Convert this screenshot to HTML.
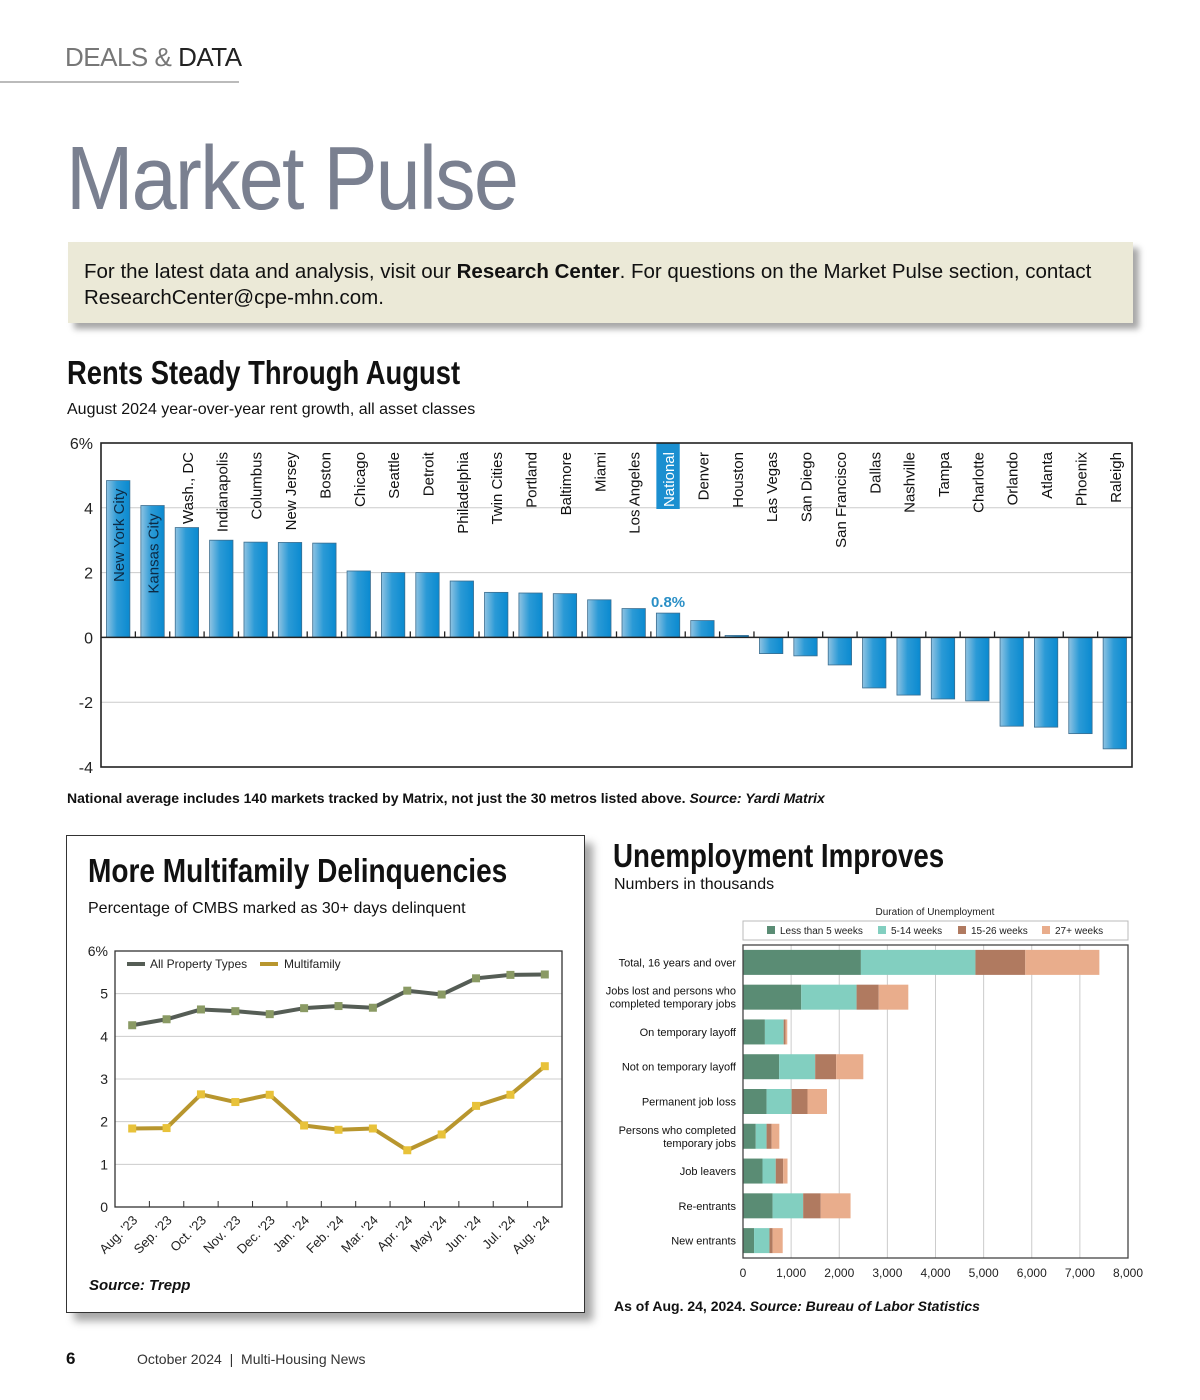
<!DOCTYPE html>
<html><head><meta charset="utf-8">
<style>
body{margin:0;background:#fff;}
#page{position:relative;width:1200px;height:1400px;overflow:hidden;font-family:"Liberation Sans",sans-serif;color:#111;}
.abs{position:absolute;white-space:nowrap;}
.cond{font-family:"Liberation Sans Narrow","Liberation Sans",sans-serif;font-weight:bold;transform-origin:0 0;}
svg text{font-family:"Liberation Sans",sans-serif;}
</style></head>
<body>
<div id="page">
  <div class="abs" style="left:65px;top:42px;font-size:26px;color:#777;letter-spacing:-0.5px;">DEALS &amp; <span style="color:#222">DATA</span></div>
  <div class="abs" style="left:0;top:81px;width:239px;height:2px;background:#bbb;"></div>
  <div class="abs" style="left:66px;top:128px;font-size:90px;font-weight:300;color:#7a8090;transform:scaleX(0.9);transform-origin:0 0;letter-spacing:-2px;">Market Pulse</div>
  <div class="abs" style="left:68px;top:242px;width:1065px;height:81px;background:#ebe9d7;box-shadow:6px 6px 6px rgba(0,0,0,0.35);"></div>
  <div class="abs" style="left:84px;top:259px;font-size:20.5px;line-height:26px;color:#111;white-space:normal;width:1045px;">For the latest data and analysis, visit our <b>Research Center</b>. For questions on the Market Pulse section, contact ResearchCenter@cpe-mhn.com.</div>

  <div class="abs cond" style="left:67px;top:354px;font-size:33px;transform:scaleX(0.83);">Rents Steady Through August</div>
  <div class="abs" style="left:67px;top:401px;font-size:16px;">August 2024 year-over-year rent growth, all asset classes</div>
  <div class="abs" style="left:67px;top:790px;font-size:14px;font-weight:bold;">National average includes 140 markets tracked by Matrix, not just the 30 metros listed above. <i>Source: Yardi Matrix</i></div>

  <div class="abs" style="left:66px;top:835px;width:517px;height:476px;border:1px solid #333;box-shadow:8px 8px 8px rgba(0,0,0,0.35);background:#fff;"></div>
  <div class="abs cond" style="left:88px;top:852px;font-size:33px;transform:scaleX(0.85);">More Multifamily Delinquencies</div>
  <div class="abs" style="left:88px;top:900px;font-size:16px;">Percentage of CMBS marked as 30+ days delinquent</div>
  <div class="abs" style="left:89px;top:1277px;font-size:15px;font-weight:bold;font-style:italic;">Source: Trepp</div>

  <div class="abs cond" style="left:613px;top:837px;font-size:33px;transform:scaleX(0.84);">Unemployment Improves</div>
  <div class="abs" style="left:614px;top:876px;font-size:16px;">Numbers in thousands</div>
  <div class="abs" style="left:614px;top:1298px;font-size:14px;font-weight:bold;">As of Aug. 24, 2024. <i>Source: Bureau of Labor Statistics</i></div>

  <div class="abs" style="left:66px;top:1349px;font-size:17px;font-weight:bold;">6</div>
  <div class="abs" style="left:137px;top:1351px;font-size:14px;color:#333;">October 2024 &nbsp;|&nbsp; Multi-Housing News</div>

  <svg id="charts" width="1200" height="1400" style="position:absolute;left:0;top:0;">
    <defs>
      <linearGradient id="barGrad" x1="0" x2="1" y1="0" y2="0">
        <stop offset="0" stop-color="#8fc3e2"/><stop offset="0.45" stop-color="#2b9ad6"/><stop offset="1" stop-color="#0a8ad0"/>
      </linearGradient>
    </defs>
  </svg>
</div>
<script>
// ---------- Rent chart data ----------
const rentCities = ["New York City","Kansas City","Wash., DC","Indianapolis","Columbus","New Jersey","Boston","Chicago","Seattle","Detroit","Philadelphia","Twin Cities","Portland","Baltimore","Miami","Los Angeles","National","Denver","Houston","Las Vegas","San Diego","San Francisco","Dallas","Nashville","Tampa","Charlotte","Orlando","Atlanta","Phoenix","Raleigh"];
const rentValues = [4.84,4.07,3.39,3.0,2.94,2.93,2.91,2.05,2.0,2.0,1.74,1.39,1.37,1.35,1.16,0.89,0.75,0.52,0.06,-0.5,-0.57,-0.85,-1.56,-1.78,-1.9,-1.96,-2.74,-2.77,-2.97,-3.44];
const rentTicks = [6,4,2,0,-2,-4];
const rentTickLabels = ["6%","4","2","0","-2","-4"];
const rentHighlight = "National";
const rentHighlightLabel = "0.8%";

// ---------- Delinquency chart data ----------
const delMonths = ["Aug. '23","Sep. '23","Oct. '23","Nov. '23","Dec. '23","Jan. '24","Feb. '24","Mar. '24","Apr. '24","May '24","Jun. '24","Jul. '24","Aug. '24"];
const delAll = [4.26,4.4,4.63,4.59,4.52,4.66,4.71,4.67,5.07,4.98,5.36,5.44,5.45];
const delMulti = [1.84,1.85,2.64,2.46,2.63,1.91,1.81,1.84,1.33,1.70,2.37,2.63,3.30];
const delTicks = [0,1,2,3,4,5,6];
const delTickLabels = ["0","1","2","3","4","5","6%"];

// ---------- Unemployment chart data ----------
const unCats = [["Total, 16 years and over"],["Jobs lost and persons who","completed temporary jobs"],["On temporary layoff"],["Not on temporary layoff"],["Permanent job loss"],["Persons who completed","temporary jobs"],["Job leavers"],["Re-entrants"],["New entrants"]];
const unLess5 = [2450,1210,455,750,490,265,405,615,230];
const un5to14 = [2380,1150,390,750,520,225,275,635,320];
const un15to26 = [1035,460,40,435,330,105,155,365,65];
const un27plus = [1540,615,35,565,405,160,90,620,210];
const unTicks = [0,1000,2000,3000,4000,5000,6000,7000,8000];
const unTickLabels = ["0","1,000","2,000","3,000","4,000","5,000","6,000","7,000","8,000"];
const unSeriesNames = ["Less than 5 weeks","5-14 weeks","15-26 weeks","27+ weeks"];

const NS="http://www.w3.org/2000/svg";
const svg=document.getElementById('charts');
function mk(tag,attrs,parent,text){const e=document.createElementNS(NS,tag);for(const k in attrs)e.setAttribute(k,attrs[k]);if(text!==undefined)e.textContent=text;(parent||svg).appendChild(e);return e;}

// ===== Rent chart =====
(function(){
  const g=mk('g',{});
  
  
  const L=101,R=1132,T=443,B=767,vmax=6,vmin=-4;
  const y=v=>T+(vmax-v)/(vmax-vmin)*(B-T);
  const band=(R-L)/rentCities.length;
  const x=i=>L+band*i;
  rentTicks.forEach((t,i)=>{
    if(t!==vmax&&t!==vmin&&t!==0){const gl=mk('line',{x1:L,x2:R,y1:y(t),y2:y(t),stroke:'#ccc','stroke-width':1},g);
      
      }
    const tl=mk('text',{x:93,y:y(t)+6,'text-anchor':'end','font-size':16,fill:'#222'},g,rentTickLabels[i]);
    
    
  });
  rentCities.forEach((c,i)=>{
    const v=rentValues[i];
    const bx=x(i)+5.5,bw=band-11;
    const top=Math.min(y(v),y(0)),h=Math.abs(y(v)-y(0));
    const r=mk('rect',{x:bx,y:top,width:bw,height:Math.max(h,1.5),fill:'url(#barGrad)',stroke:'#3b6d8f','stroke-width':0.8},g);
    
    
    const cx=bx+bw/2+6;
    let lab;
    if(c===rentHighlight){
      const hb=mk('rect',{x:bx,y:T,width:bw,height:66,fill:'#1b8fd0'},g);
      
      
      lab=mk('text',{x:cx,y:T+9,'text-anchor':'end','font-size':15,fill:'#fff',transform:`rotate(-90 ${cx} ${T+9})`},g,c);
      const vl=mk('text',{x:bx+bw/2,y:top-6,'text-anchor':'middle','font-size':15,'font-weight':'bold',fill:'#2a8fc6'},g,rentHighlightLabel);
      
      
    } else if(y(v)<T+70){
      const ly=y(v)+8;
      lab=mk('text',{x:cx,y:ly,'text-anchor':'end','font-size':15,fill:'#0d2a44',transform:`rotate(-90 ${cx} ${ly})`},g,c);
    } else {
      lab=mk('text',{x:cx,y:T+9,'text-anchor':'end','font-size':15,fill:'#111',transform:`rotate(-90 ${cx} ${T+9})`},g,c);
    }
    
    
    if(i>0){const tk=mk('line',{x1:x(i),x2:x(i),y1:y(0),y2:y(0)-6,stroke:'#222','stroke-width':1.3},g);
      
      }
  });
  const z=mk('line',{x1:L,x2:R,y1:y(0),y2:y(0),stroke:'#222','stroke-width':1.5},g);
  
  
  const fr=mk('rect',{x:L,y:T,width:R-L,height:B-T,fill:'none',stroke:'#222','stroke-width':1.6},g);
  
  
})();

// ===== Delinquency chart =====
(function(){
  const g=mk('g',{});
  
  
  const L=115,R=562,T=951,B=1207;
  const y=v=>B-v/6*(B-T);
  const band=(R-L)/delMonths.length;
  const x=i=>L+band*(i+0.5);
  delTicks.forEach((t,i)=>{
    if(t>0&&t<6){const gl=mk('line',{x1:L,x2:R,y1:y(t),y2:y(t),stroke:'#ccc','stroke-width':1},g);
      
      }
    const tl=mk('text',{x:108,y:y(t)+5,'text-anchor':'end','font-size':14,fill:'#222'},g,delTickLabels[i]);
    
    
  });
  delMonths.forEach((m,i)=>{
    if(i>0){const tk=mk('line',{x1:L+band*i,x2:L+band*i,y1:B,y2:B-6,stroke:'#333','stroke-width':1},g);
      
      }
    const tx=x(i)+6,ty=B+14;
    const tl=mk('text',{x:tx,y:ty,'text-anchor':'end','font-size':13,fill:'#222',transform:`rotate(-45 ${tx} ${ty})`},g,m);
    
    
  });
  const fr=mk('rect',{x:L,y:T,width:R-L,height:B-T,fill:'none',stroke:'#333','stroke-width':1.3},g);
  
  
  function series(vals,lineCol,ptCol,name){
    const pl=mk('polyline',{points:vals.map((v,i)=>x(i)+','+y(v)).join(' '),fill:'none',stroke:lineCol,'stroke-width':4,'stroke-linejoin':'round'},g);
    
    
    vals.forEach((v,i)=>{
      const p=mk('rect',{x:x(i)-4,y:y(v)-4,width:8,height:8,fill:ptCol},g);
      
      
    });
  }
  series(delAll,'#555d55','#8a9a64','all-property-types');
  series(delMulti,'#b8962e','#e8c23a','multifamily');
  const l1=mk('line',{x1:127,x2:145,y1:964,y2:964,stroke:'#555d55','stroke-width':4},g);
  
  
  const t1=mk('text',{x:150,y:968,'font-size':12,fill:'#222'},g,'All Property Types');
  
  
  const l2=mk('line',{x1:260,x2:278,y1:964,y2:964,stroke:'#b8962e','stroke-width':4},g);
  
  
  const t2=mk('text',{x:284,y:968,'font-size':12,fill:'#222'},g,'Multifamily');
  
  
})();

// ===== Unemployment chart =====
(function(){
  const g=mk('g',{});
  
  
  const L=743,R=1128,T=945,B=1258,vmax=8000;
  const x=v=>L+v/vmax*(R-L);
  const band=(B-T)/unCats.length;
  const cy=i=>T+band*(i+0.5);
  const cols=['#5a8c74','#82cfc0','#b07a60','#e9ad8c'];
  const series=[unLess5,un5to14,un15to26,un27plus];
  unTicks.forEach((t,i)=>{
    if(t>0&&t<vmax){const gl=mk('line',{x1:x(t),x2:x(t),y1:T,y2:B,stroke:'#ccc','stroke-width':1},g);
      
      }
    const tl=mk('text',{x:x(t),y:B+19,'text-anchor':'middle','font-size':12,fill:'#222'},g,unTickLabels[i]);
    
    
  });
  unCats.forEach((c,i)=>{
    let acc=0;
    series.forEach((s,k)=>{
      const r=mk('rect',{x:x(acc),y:cy(i)-12.5,width:x(acc+s[i])-x(acc),height:25,fill:cols[k]},g);
      
      
      acc+=s[i];
    });
    c.forEach((line,j)=>{
      const yy=cy(i)+4+(j-(c.length-1)/2)*13;
      const tl=mk('text',{x:736,y:yy,'text-anchor':'end','font-size':11,fill:'#111'},g,line);
      
      
    });
  });
  const fr=mk('rect',{x:L,y:T,width:R-L,height:B-T,fill:'none',stroke:'#444','stroke-width':1.3},g);
  
  
  const lt=mk('text',{x:935,y:915,'text-anchor':'middle','font-size':10,fill:'#222'},g,'Duration of Unemployment');
  
  
  const lb=mk('rect',{x:743,y:921,width:385,height:19,fill:'#fff',stroke:'#bbb','stroke-width':1},g);
  
  
  const lx=[767,878,958,1042];
  unSeriesNames.forEach((n,k)=>{
    const sw=mk('rect',{x:lx[k],y:926,width:8,height:8,fill:cols[k]},g);
    
    
    const tl=mk('text',{x:lx[k]+13,y:934,'font-size':10,fill:'#222'},g,n);
    
    
  });
})();
</script>
</body></html>
